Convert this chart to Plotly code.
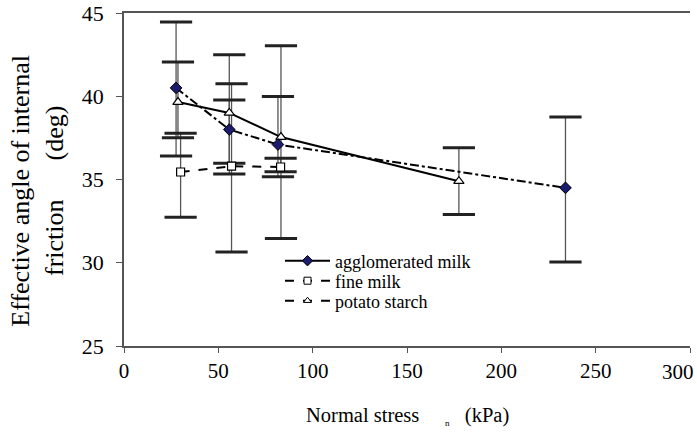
import plotly.graph_objects as go

# ---- data ----
agg_x = [27.6, 55.8, 81.6, 234.0]
agg_y = [40.5, 38.0, 37.1, 34.5]
agg_hi = [44.46, 39.78, 39.98, 38.76]
agg_lo = [36.41, 35.97, 35.16, 30.04]

fine_x = [30.0, 57.0, 83.0]
fine_y = [35.45, 35.8, 35.75]
fine_hi = [37.78, 40.75, 36.27]
fine_lo = [32.73, 30.64, 35.46]

pot_x = [28.6, 55.8, 83.2, 177.5]
pot_y = [39.65, 39.0, 37.55, 34.9]
pot_hi = [42.05, 42.49, 43.04, 36.9]
pot_lo = [37.51, 35.33, 31.45, 32.9]

series_names = ["agglomerated milk", "fine milk", "potato starch"]
x_ticks = [0, 50, 100, 150, 200, 250, 300]
y_ticks = [25, 30, 35, 40, 45]

FONT = "'Liberation Serif', 'DejaVu Serif', serif"

fig = go.Figure()

series = [
    (agg_x, agg_y, agg_hi, agg_lo),
    (fine_x, fine_y, fine_hi, fine_lo),
    (pot_x, pot_y, pot_hi, pot_lo),
]

# error bar stems
for xs, ys, hi, lo in series:
    fig.add_trace(go.Scatter(
        x=xs, y=ys, mode="markers", marker=dict(size=1, opacity=0),
        error_y=dict(type="data", symmetric=False,
                     array=[h - v for h, v in zip(hi, ys)],
                     arrayminus=[v - l for l, v in zip(lo, ys)],
                     color="#555555", thickness=1.3, width=0),
        showlegend=False, hoverinfo="skip"))

# error bar caps
for xs, ys, hi, lo in series:
    fig.add_trace(go.Scatter(
        x=xs + xs, y=hi + lo, mode="markers",
        marker=dict(symbol="line-ew", size=23, line=dict(width=3, color="#222222")),
        showlegend=False, hoverinfo="skip"))

# data lines as drawn in the plot
fig.add_trace(go.Scatter(
    x=pot_x, y=pot_y, mode="lines+markers",
    line=dict(color="black", width=2, dash="solid"),
    marker=dict(symbol="triangle-up", size=9, color="white", line=dict(color="black", width=1.2)),
    showlegend=False))
fig.add_trace(go.Scatter(
    x=agg_x, y=agg_y, mode="lines+markers",
    line=dict(color="black", width=2, dash="dashdot"),
    marker=dict(symbol="diamond", size=9, color="#1c1c6e", line=dict(color="black", width=1)),
    showlegend=False))
fig.add_trace(go.Scatter(
    x=fine_x, y=fine_y, mode="lines+markers",
    line=dict(color="black", width=2, dash="dash"),
    marker=dict(symbol="square", size=8, color="white", line=dict(color="black", width=1.2)),
    showlegend=False))

# legend entries (styled as in the reference legend)
legend_styles = [
    dict(dash="solid", symbol="diamond", color="#1c1c6e", size=8),
    dict(dash="dash", symbol="square", color="white", size=7),
    dict(dash="dash", symbol="triangle-up", color="white", size=7),
]
legend_ids = ["legend", "legend2", "legend3"]
for name, st, lid in zip(series_names, legend_styles, legend_ids):
    fig.add_trace(go.Scatter(
        x=[None], y=[None], mode="lines+markers", name=name, legend=lid,
        line=dict(color="black", width=2, dash=st["dash"]),
        marker=dict(symbol=st["symbol"], size=st["size"], color=st["color"],
                    line=dict(color="black", width=1))))

leg_common = dict(xanchor="left", yanchor="middle", bgcolor="rgba(0,0,0,0)",
                  borderwidth=0, itemwidth=45,
                  font=dict(family=FONT, size=18, color="black"))
leg_x = (280 - 124) / 566
fig.update_layout(
    legend=dict(x=leg_x, y=(346 - 261) / 333, **leg_common),
    legend2=dict(x=leg_x, y=(346 - 281) / 333, **leg_common),
    legend3=dict(x=leg_x, y=(346 - 301) / 333, **leg_common),
)

# last x tick label is drawn as an annotation pulled inside the page (as in the reference)
x_ticktext = [str(v) for v in x_ticks[:-1]] + [""]

fig.update_layout(
    width=697, height=434,
    margin=dict(l=124, r=7, t=13, b=88),
    paper_bgcolor="white", plot_bgcolor="white",
    font=dict(family=FONT, color="black"),
    xaxis=dict(range=[0, 300], tickvals=x_ticks, ticktext=x_ticktext,
               showgrid=False, zeroline=False,
               showline=True, linecolor="#555555", linewidth=1.5, mirror=True,
               ticks="outside", ticklen=5, tickcolor="#555555",
               automargin=False,
               tickfont=dict(family=FONT, size=21, color="black")),
    yaxis=dict(range=[25, 45], tickvals=y_ticks, showgrid=False, zeroline=False,
               showline=True, linecolor="#555555", linewidth=1.5,
               ticks="outside", ticklen=6, tickcolor="#555555",
               ticklabelstandoff=8, automargin=False,
               tickfont=dict(family=FONT, size=22, color="black")),
)

fig.add_annotation(
    text=str(x_ticks[-1]), xref="x", yref="paper", x=x_ticks[-1], y=0,
    xanchor="right", yanchor="top", xshift=6, yshift=-12, showarrow=False,
    font=dict(family=FONT, size=21, color="black"))

fig.add_annotation(
    text="Effective angle of internal<br>friction&nbsp;&nbsp;&nbsp;&nbsp;&nbsp;&nbsp;(deg)",
    xref="paper", yref="paper", x=0, y=0.465, xanchor="left", yanchor="middle",
    xshift=-120, textangle=-90, showarrow=False,
    font=dict(family=FONT, size=26, color="black"))

fig.add_annotation(
    text="Normal stress&nbsp;&nbsp;&nbsp;&nbsp;&nbsp;<sub><span style='font-size:9px'>n</span></sub>&nbsp;&nbsp;&nbsp;(kPa)",
    xref="paper", yref="paper", x=0.5, y=0, xanchor="center", yanchor="top",
    yshift=-56, showarrow=False,
    font=dict(family=FONT, size=20.5, color="black"))

fig.write_html("out.html")
